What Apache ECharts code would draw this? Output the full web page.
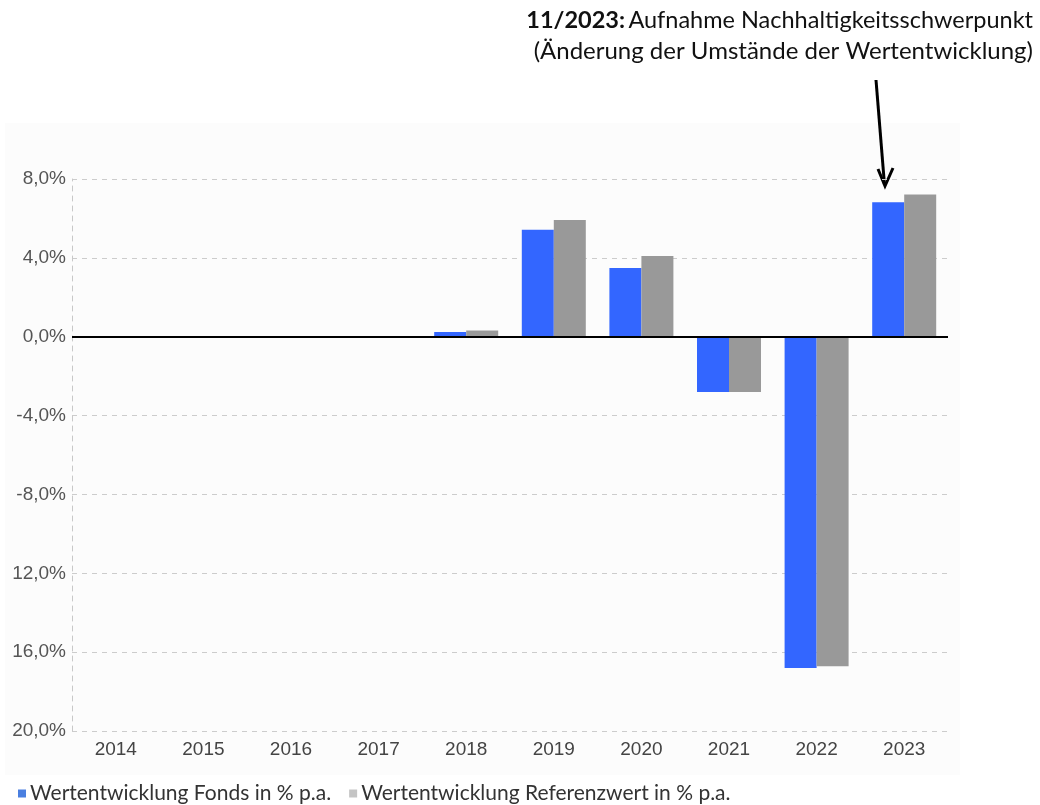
<!DOCTYPE html>
<html>
<head>
<meta charset="utf-8">
<script src="https://cdn.jsdelivr.net/npm/echarts@6/dist/echarts.min.js"></script>
<style>
  html, body { margin: 0; padding: 0; background: #ffffff; }
  #chart { width: 1040px; height: 805px; }
</style>
</head>
<body>
<div id="chart"></div>
<script>
const years = ['2014', '2015', '2016', '2017', '2018', '2019', '2020', '2021', '2022', '2023']
const fonds = [null, null, null, null, 0.24, 5.42, 3.49, -2.80, -16.8, 6.82]
const referenz = [null, null, null, null, 0.32, 5.92, 4.10, -2.80, -16.72, 7.22]
// tick labels as printed on the original (the lower ones lost their minus sign)
const tickValues = [8, 4, 0, -4, -8, -12, -16, -20]
const tickLabels = ['8,0%', '4,0%', '0,0%', '-4,0%', '-8,0%', '12,0%', '16,0%', '20,0%']

const chart = echarts.init(document.getElementById('chart'))

const option = {
  animation: false,
  backgroundColor: '#ffffff',
  grid: { left: 72, right: 92, top: 179, bottom: 74 },
  legend: {
    left: 13,
    top: 778,
    itemWidth: 8,
    itemHeight: 8,
    itemGap: 18,
    icon: 'rect',
    textStyle: { fontFamily: 'Lato', fontSize: 21, color: '#333', padding: [0, 0, 0, -1] },
    data: [
      { name: 'Wertentwicklung Fonds in % p.a.', itemStyle: { color: '#4a7fe0' } },
      { name: 'Wertentwicklung Referenzwert in % p.a.', itemStyle: { color: '#c4c4c4' } }
    ]
  },
  xAxis: {
    type: 'category',
    data: years,
    axisLine: { show: false },
    axisTick: { show: false },
    axisLabel: { margin: 9, fontFamily: 'Liberation Sans', fontSize: 19, color: '#444' }
  },
  yAxis: {
    type: 'value',
    min: -20,
    max: 8,
    interval: 4,
    axisLine: { show: true, lineStyle: { color: '#c8c8c8', type: [5, 5], width: 1 } },
    axisTick: { show: false },
    splitLine: { show: true, lineStyle: { color: '#cccccc', type: [5, 5], width: 1 } },
    axisLabel: {
      margin: 6,
      fontFamily: 'Liberation Sans',
      fontSize: 19,
      color: '#555',
      formatter: function (v) {
        const i = tickValues.indexOf(v)
        return i >= 0 ? tickLabels[i] : ''
      }
    }
  },
  series: [
    {
      name: 'Wertentwicklung Fonds in % p.a.',
      type: 'bar',
      data: fonds,
      barWidth: 32,
      barGap: '0%',
      itemStyle: { color: '#3366ff' },
      markLine: {
        silent: true,
        symbol: 'none',
        label: { show: false },
        lineStyle: { color: '#000', type: 'solid', width: 2 },
        data: [{ yAxis: 0 }]
      }
    },
    {
      name: 'Wertentwicklung Referenzwert in % p.a.',
      type: 'bar',
      data: referenz,
      barWidth: 32,
      barGap: '0%',
      itemStyle: { color: '#999999' }
    }
  ],
  graphic: [
    {
      type: 'rect',
      z: -10,
      shape: { x: 5, y: 123, width: 955, height: 652 },
      style: { fill: '#fcfcfc' }
    },
    {
      type: 'text',
      right: 7,
      top: 8,
      style: {
        rich: {
          b: { fontFamily: 'Lato', fontWeight: 'bold', fontSize: 23.5, fill: '#111' },
          n: { fontFamily: 'Lato', fontSize: 23.5, fill: '#111' }
        },
        text: '{b|11/2023:} {n|Aufnahme Nachhaltigkeitsschwerpunkt}',
        align: 'right'
      }
    },
    {
      type: 'text',
      right: 7,
      top: 39,
      style: {
        text: '(Änderung der Umstände der Wertentwicklung)',
        fontFamily: 'Lato',
        fontSize: 24,
        fill: '#111',
        align: 'right'
      }
    },
    {
      type: 'line',
      shape: { x1: 876, y1: 80, x2: 884.5, y2: 185 },
      style: { stroke: '#000', lineWidth: 3 }
    },
    {
      type: 'polyline',
      shape: { points: [[878, 169], [885, 186], [893, 168]] },
      style: { stroke: '#000', lineWidth: 3, fill: null }
    }
  ]
}

option && chart.setOption(option)
</script>
</body>
</html>
